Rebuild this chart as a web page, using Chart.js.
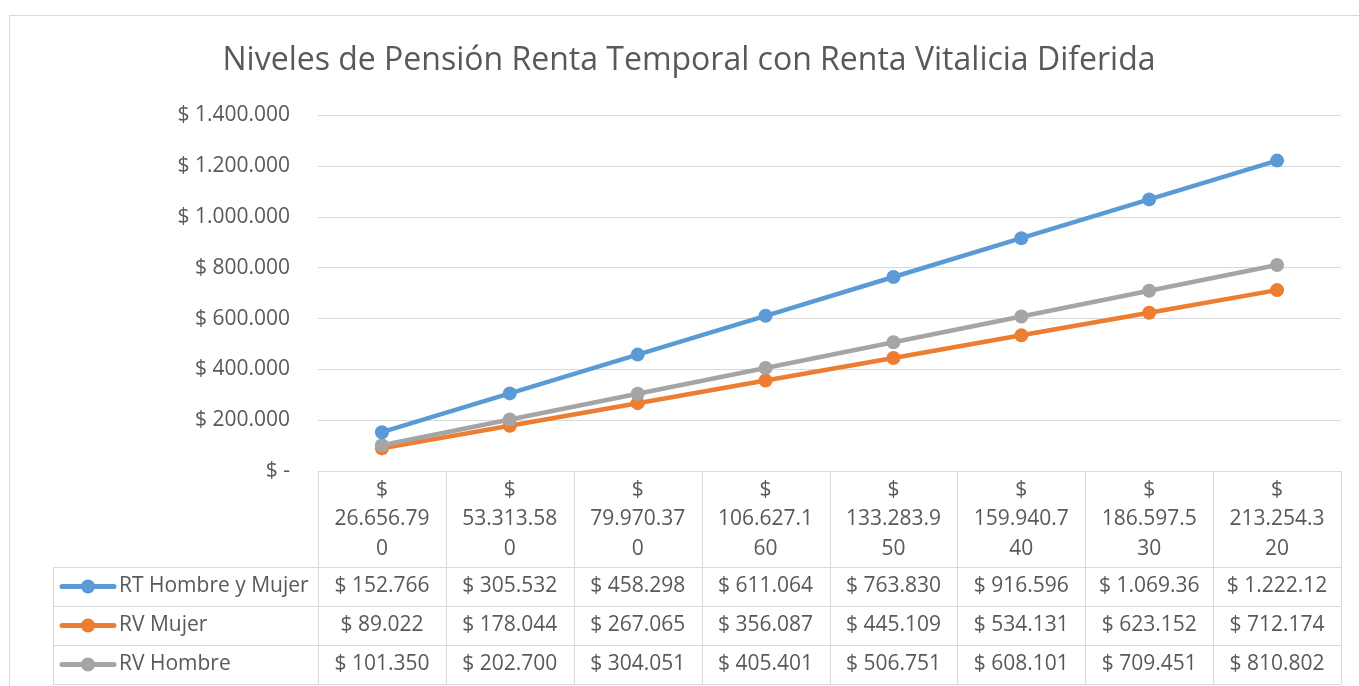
<!DOCTYPE html>
<html>
<head>
<meta charset="utf-8">
<script src="https://cdn.jsdelivr.net/npm/chart.js@4"></script>
<style>
  html, body { margin: 0; padding: 0; background: #fff; }
  #wrap { position: absolute; left: 0; top: 0; width: 1359px; height: 686px; }
</style>
</head>
<body>
<div id="wrap"><canvas id="pensionChart" width="1359" height="686"></canvas></div>
<script>
const FONT = "'Open Sans', 'Noto Sans', sans-serif";
const TEXT_COLOR = '#595959';
const GRID_COLOR = '#D9D9D9';

// categorias (montos), como aparecen en la tabla de datos
const categories = [
    ['$', '26.656.79', '0'],
    ['$', '53.313.58', '0'],
    ['$', '79.970.37', '0'],
    ['$', '106.627.1', '60'],
    ['$', '133.283.9', '50'],
    ['$', '159.940.7', '40'],
    ['$', '186.597.5', '30'],
    ['$', '213.254.3', '20']
];

const seriesNames = ['RT Hombre y Mujer', 'RV Mujer', 'RV Hombre'];
const rtHombreMujer = [152766, 305532, 458298, 611064, 763830, 916596, 1069362, 1222128];
const rvMujer = [89022, 178044, 267065, 356087, 445109, 534131, 623152, 712174];
const rvHombre = [101350, 202700, 304051, 405401, 506751, 608101, 709451, 810802];
const seriesColors = ['#5B9BD5', '#ED7D31', '#A5A5A5'];

const yMin = 0;
const yMax = 1400000;
const yStep = 200000;

function formatPeso(v) {
    if (v === 0) return '$ -';
    return '$ ' + String(Math.round(v)).replace(/\B(?=(\d{3})+(?!\d))/g, '.');
}

// texto recortado al ancho de la celda, como hace Excel
function fitText(ctx, text, maxW) {
    let t = text;
    while (t.length > 1 && ctx.measureText(t).width > maxW) t = t.slice(0, -1);
    return t;
}

const framePlugin = {
    id: 'frame',
    beforeDraw(chart) {
        const ctx = chart.ctx;
        ctx.save();
        ctx.strokeStyle = GRID_COLOR;
        ctx.lineWidth = 1;
        ctx.strokeRect(9.5, 15.5, chart.width, chart.height);
        ctx.restore();
    }
};

const dataTablePlugin = {
    id: 'dataTable',
    afterDraw(chart) {
        const ctx = chart.ctx;
        const xs = chart.scales.x;
        const area = chart.chartArea;
        const colW = xs.getPixelForValue(1) - xs.getPixelForValue(0);
        const headerTop = area.bottom;
        const headerH = 96;
        const rowH = 39;
        const keyLeft = 53;
        const rowsTop = headerTop + headerH;
        const tableBottom = rowsTop + rowH * seriesNames.length;
        const cellEdges = categories.map((c, i) => xs.getPixelForValue(i) - colW / 2);
        cellEdges.push(area.right);

        ctx.save();
        ctx.strokeStyle = GRID_COLOR;
        ctx.lineWidth = 1;
        ctx.beginPath();
        // lineas horizontales
        ctx.moveTo(area.left, Math.round(headerTop) + 0.5);
        ctx.lineTo(area.right, Math.round(headerTop) + 0.5);
        for (let r = 0; r <= seriesNames.length; r++) {
            const y = Math.round(rowsTop + r * rowH) + 0.5;
            ctx.moveTo(keyLeft, y);
            ctx.lineTo(area.right, y);
        }
        // lineas verticales
        cellEdges.forEach(x => {
            const px = Math.round(x) + 0.5;
            ctx.moveTo(px, headerTop);
            ctx.lineTo(px, tableBottom);
        });
        ctx.moveTo(keyLeft + 0.5, rowsTop);
        ctx.lineTo(keyLeft + 0.5, tableBottom);
        ctx.stroke();

        ctx.fillStyle = TEXT_COLOR;
        ctx.font = '21px ' + FONT;
        ctx.textAlign = 'center';
        ctx.textBaseline = 'middle';
        // encabezados
        categories.forEach((lines, i) => {
            const cx = xs.getPixelForValue(i);
            lines.forEach((line, k) => {
                ctx.fillText(line, cx, headerTop + 19 + k * 29.5);
            });
        });

        // filas de series
        const allSeries = [rtHombreMujer, rvMujer, rvHombre];
        allSeries.forEach((values, r) => {
            const cy = rowsTop + r * rowH + rowH / 2;
            values.forEach((v, i) => {
                ctx.fillStyle = TEXT_COLOR;
                ctx.textAlign = 'center';
                ctx.fillText(fitText(ctx, formatPeso(v), colW - 20), xs.getPixelForValue(i), cy);
            });
            // clave de leyenda
            ctx.strokeStyle = seriesColors[r];
            ctx.lineWidth = 5;
            ctx.lineCap = 'round';
            ctx.beginPath();
            ctx.moveTo(62, cy);
            ctx.lineTo(114, cy);
            ctx.stroke();
            ctx.fillStyle = seriesColors[r];
            ctx.beginPath();
            ctx.arc(88, cy, 7, 0, Math.PI * 2);
            ctx.fill();
            ctx.fillStyle = TEXT_COLOR;
            ctx.textAlign = 'left';
            ctx.fillText(seriesNames[r], 119, cy);
        });
        ctx.restore();
    }
};

const ctx = document.getElementById('pensionChart').getContext('2d');
const allValues = [rtHombreMujer, rvMujer, rvHombre];
new Chart(ctx, {
    type: 'line',
    data: {
        labels: categories,
        datasets: allValues.map((values, i) => ({
            label: seriesNames[i],
            data: values,
            borderColor: seriesColors[i],
            backgroundColor: seriesColors[i],
            borderWidth: 4.5,
            pointRadius: 7,
            pointHoverRadius: 7,
            pointBorderWidth: 0,
            order: i === 1 ? 2 : (i === 2 ? 1 : 0),
            tension: 0
        }))
    },
    options: {
        responsive: false,
        animation: false,
        layout: { padding: { left: 37, right: 18, top: 0, bottom: 215 } },
        plugins: {
            legend: { display: false },
            tooltip: { enabled: false },
            title: {
                display: true,
                text: 'Niveles de Pensión Renta Temporal con Renta Vitalicia Diferida',
                color: TEXT_COLOR,
                font: { family: FONT, size: 32, weight: 'normal' },
                padding: { top: 42, bottom: 35 }
            }
        },
        scales: {
            x: {
                display: false,
                offset: true
            },
            y: {
                min: yMin,
                max: yMax,
                border: { display: false },
                grid: { color: GRID_COLOR, lineWidth: 1, drawTicks: false },
                afterFit(scale) { scale.width = 281; },
                ticks: {
                    stepSize: yStep,
                    padding: 28,
                    color: TEXT_COLOR,
                    font: { family: FONT, size: 21 },
                    callback: v => formatPeso(v)
                }
            }
        }
    },
    plugins: [framePlugin, dataTablePlugin]
});
</script>
</body>
</html>
